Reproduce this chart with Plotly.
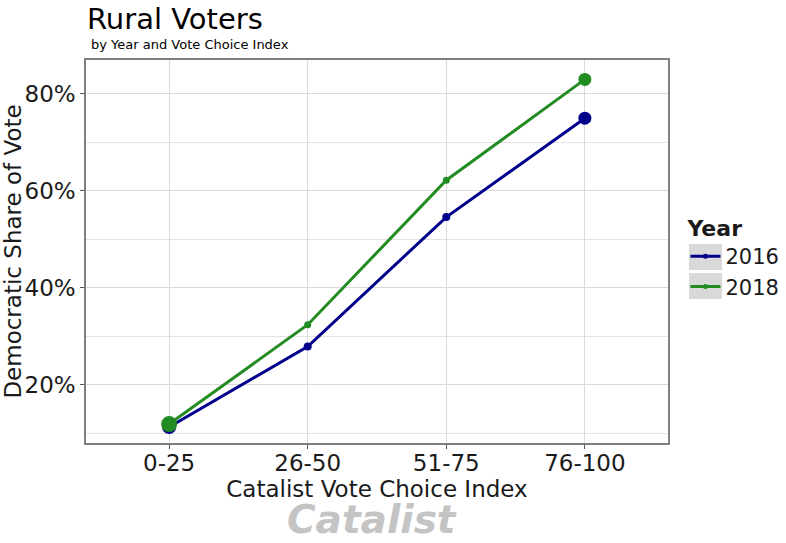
import plotly.graph_objects as go

# -------------------------
# data
# -------------------------
categories = ["0-25", "26-50", "51-75", "76-100"]
share_2016 = [11.3, 27.9, 54.6, 75.0]
share_2018 = [11.9, 32.4, 62.2, 83.0]
size_2016 = [14, 8, 8, 13]
size_2018 = [16, 7, 7, 13]
y_ticks = [20, 40, 60, 80]
y_labels = ["20%", "40%", "60%", "80%"]

blue = "#00008B"
green = "#228B22"
font = "DejaVu Sans"

W, H = 786, 543

fig = go.Figure()

# main lines (legend handled by the dummy traces below)
for name, vals, sizes, col in [("2016", share_2016, size_2016, blue),
                               ("2018", share_2018, size_2018, green)]:
    fig.add_trace(go.Scatter(
        x=categories, y=vals, mode="lines+markers", name=name,
        line=dict(color=col, width=3),
        marker=dict(color=col, size=sizes, opacity=1, line=dict(width=0)),
        showlegend=False,
    ))

# legend keys with small dots
for name, col in [("2016", blue), ("2018", green)]:
    fig.add_trace(go.Scatter(
        x=[None], y=[None], mode="lines+markers", name=name,
        line=dict(color=col, width=3),
        marker=dict(color=col, size=5, opacity=1),
    ))

fig.update_layout(
    width=W, height=H,
    margin=dict(l=86, r=118, t=60, b=100, autoexpand=False),
    paper_bgcolor="white",
    plot_bgcolor="white",
    font=dict(family=font, color="#1a1a1a"),
    title=dict(text="Rural Voters", x=87 / W, xanchor="left",
               y=1 - 19 / H, yanchor="middle", yref="container",
               font=dict(size=29, color="black")),
    legend=dict(title=dict(text="<b>Year</b>", font=dict(size=22)),
                font=dict(size=21), x=1.030, xanchor="left",
                y=0.615, yanchor="top", itemwidth=30,
                tracegroupgap=0, bgcolor="rgba(0,0,0,0)"),
    showlegend=True,
)

fig.update_xaxes(
    type="category", range=[-0.6, 3.6], automargin=False,
    showgrid=True, gridcolor="#dadada", gridwidth=1,
    ticks="outside", ticklen=4, tickcolor="#555555", ticklabelstandoff=-5,
    tickfont=dict(size=23, color="#1a1a1a"),
    showline=True, linecolor="#7f7f7f", linewidth=1.5, mirror=True,
    title=dict(text="Catalist Vote Choice Index", font=dict(size=23), standoff=0),
    zeroline=False,
)
fig.update_yaxes(
    range=[8.0, 87.0], tickvals=y_ticks, ticktext=y_labels, automargin=False,
    showgrid=True, gridcolor="#dadada", gridwidth=1,
    minor=dict(showgrid=True, tick0=10, dtick=20, gridcolor="#e3e3e3", gridwidth=0.8),
    ticks="outside", ticklen=4, tickcolor="#555555",
    tickfont=dict(size=23, color="#1a1a1a"),
    showline=True, linecolor="#7f7f7f", linewidth=1.5, mirror=True,
    title=dict(text="Democratic Share of Vote", font=dict(size=23), standoff=2),
    zeroline=False,
)

# subtitle
fig.add_annotation(
    text="by Year and Vote Choice Index", xref="paper", yref="paper",
    x=0.005, y=1 + 15 / 383, xanchor="left", yanchor="middle",
    showarrow=False, font=dict(size=13, color="black"),
)

# grey key backgrounds in the legend
for yc in [257, 286]:
    fig.add_shape(type="rect", xref="paper", yref="paper",
                  x0=(689 - 86) / 582, x1=(722 - 86) / 582,
                  y0=(443 - yc - 13) / 383, y1=(443 - yc + 13) / 383,
                  fillcolor="#d9d9d9", line=dict(width=0), layer="below")

# watermark
fig.add_annotation(
    text="<b><i>Catalist</i></b>", xref="paper", yref="paper",
    x=(372 - 86) / 582, y=-(519 - 443) / 383, xanchor="center", yanchor="middle",
    showarrow=False, font=dict(size=39, color="#c4c4c4"),
)

# drop the default body margin so the figure sits at the page corner
fig.write_html("out.html", config={"displayModeBar": False},
               post_script="document.body.style.margin='0';")
